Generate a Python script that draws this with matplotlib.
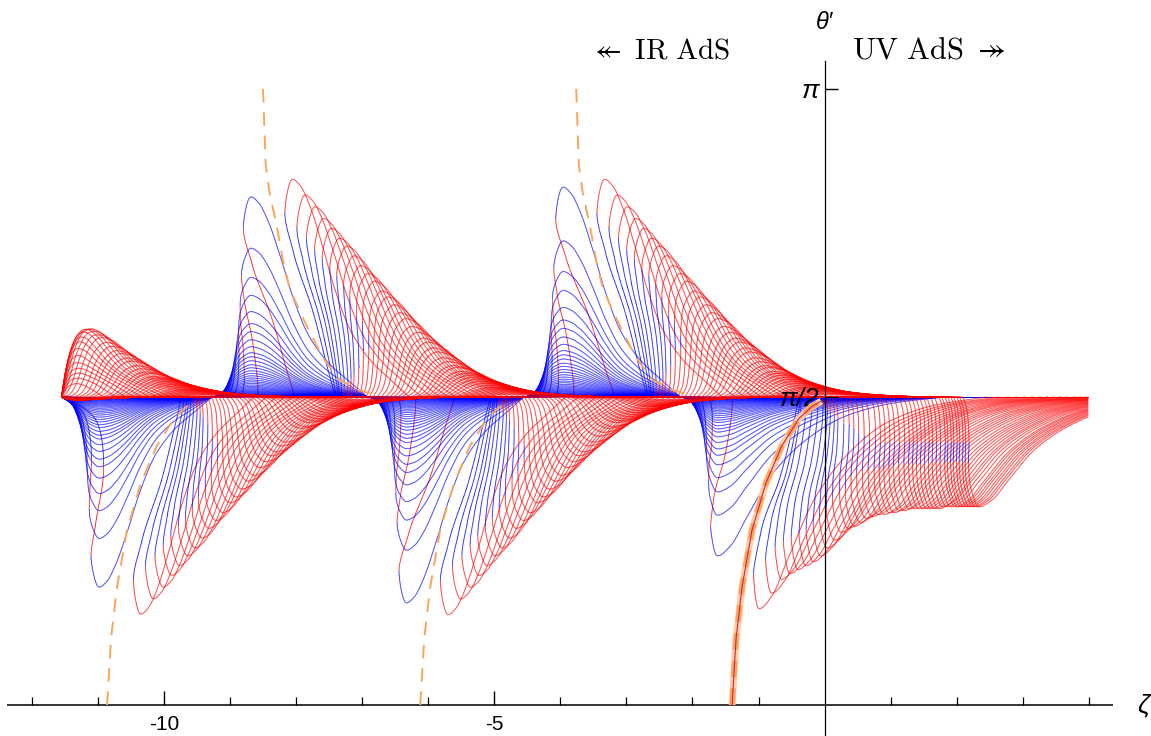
import numpy as np
import matplotlib.pyplot as plt
from matplotlib.collections import LineCollection

plt.rcParams['mathtext.fontset'] = 'cm'
plt.rcParams['axes.unicode_minus'] = False

# zeta where the small blue curves cross pi/2 (first one is the IR start)
pivots = [-11.55, -9.27, -6.92, -4.55, -2.18]
half_period = 2.37
zeta_end = 3.99
# profile of one lobe (position in lobe, fraction of extreme)
lobe_x = [0.0, 0.05, 0.10, 0.15, 0.20, 0.25, 0.30, 0.36, 0.44, 0.52, 0.62, 0.75, 0.88, 1.0]
lobe_h = [0.0, 0.12, 0.40, 0.72, 0.92, 1.00, 0.97, 0.88, 0.70, 0.50, 0.31, 0.17, 0.08, 0.0]
# how far the entry of a lobe is pushed to the right (fraction of the loop width)
lean_x = [0.0, 0.05, 0.10, 0.14, 0.18, 0.25, 1.0]
lean_w = [1.0, 0.82, 0.53, 0.22, 0.04, 0.0, 0.0]
# profile of the last (UV) lobe, zeta offset after the last pivot
uv_x = [0.0, 0.10, 0.25, 0.40, 0.56, 0.75, 1.00, 1.40, 1.90, 2.50, 3.20, 4.00]
uv_h = [0.0, 0.10, 0.42, 0.80, 1.00, 0.94, 0.76, 0.48, 0.27, 0.12, 0.04, 0.0]
uv_lean_x = [0.0, 0.12, 0.24, 0.33, 0.43, 0.56, 4.0]
uv_lean_w = [1.0, 0.82, 0.53, 0.22, 0.04, 0.0, 0.0]
# extremes of the largest blue curve per lobe (theta' - pi/2), last one is the UV lobe
blue_lobe_amp = [0.97, 1.02, 1.05, 1.07, 0.81]
# relative size of each blue curve
blue_scale = [1.0, 0.744, 0.598, 0.508, 0.427, 0.367, 0.327, 0.286, 0.251, 0.221,
              0.201, 0.181, 0.161, 0.146, 0.131, 0.118, 0.106, 0.095, 0.085, 0.076,
              0.068, 0.060, 0.053, 0.047, 0.041, 0.036, 0.031, 0.027, 0.023, 0.019,
              0.016, 0.013, 0.010, 0.007, 0.004]
# red curves: shift along zeta, lobe size, UV lobe size
red_shift = [0.63, 0.82, 0.97, 1.10, 1.22, 1.34, 1.45, 1.56, 1.66, 1.77,
             1.87, 1.98, 2.07, 2.16, 2.25, 2.34, 2.43, 2.52, 2.60, 2.67,
             2.75, 2.82, 2.90, 2.98, 3.05, 3.11, 3.17, 3.23, 3.29, 3.35,
             3.41, 3.47, 3.53, 3.60, 3.64, 3.69, 3.73, 3.78, 3.82, 3.87,
             3.91, 3.96]
red_amp = [1.11, 1.03, 0.97, 0.91, 0.86, 0.81, 0.77, 0.72, 0.67, 0.63,
           0.59, 0.54, 0.51, 0.47, 0.43, 0.40, 0.36, 0.33, 0.30, 0.28,
           0.25, 0.23, 0.20, 0.18, 0.16, 0.15, 0.13, 0.12, 0.11, 0.10,
           0.09, 0.08, 0.07, 0.06, 0.05, 0.046, 0.041, 0.036, 0.031, 0.026,
           0.020, 0.015]
red_amp_uv = [1.08, 1.00, 0.93, 0.90, 0.88, 0.86, 0.84, 0.81, 0.77, 0.73,
              0.69, 0.67, 0.66, 0.64, 0.62, 0.61, 0.60, 0.60, 0.59, 0.59,
              0.58, 0.58, 0.57, 0.57, 0.57, 0.57, 0.57, 0.57, 0.57, 0.57,
              0.56, 0.56, 0.56, 0.56, 0.56, 0.56, 0.56, 0.56, 0.56, 0.56,
              0.56, 0.56]

# orange loci: lower branch (offset from its foot, theta'), upper branch (offset from its top)
lower_feet = [-10.86, -6.12, -1.40]
lower_off = [0.0, 0.06, 0.15, 0.30, 0.51, 0.75, 1.01, 1.20, 1.35]
lower_th = [0.0, 0.34, 0.60, 0.89, 1.13, 1.32, 1.46, 1.52, 1.55]
upper_tops = [-8.50, -3.76]
upper_off = [0.0, 0.04, 0.10, 0.21, 0.30, 0.40, 0.55, 0.71, 0.90, 1.16, 1.46, 1.62]
upper_th = [np.pi, 2.754, 2.61, 2.44, 2.27, 2.13, 2.01, 1.90, 1.775, 1.657, 1.606, 1.59]

LEAN_BLUE = 1.2
LEAN_RED = 1.0


def pchip(xk, yk, x):
    xk = np.asarray(xk, float)
    yk = np.asarray(yk, float)
    h = np.diff(xk)
    d = np.diff(yk) / h
    m = np.zeros_like(yk)
    m[0], m[-1] = d[0], d[-1]
    for i in range(1, len(xk) - 1):
        if d[i - 1] * d[i] > 0:
            w1 = 2 * h[i] + h[i - 1]
            w2 = h[i] + 2 * h[i - 1]
            m[i] = (w1 + w2) / (w1 / d[i - 1] + w2 / d[i])
    i = np.clip(np.searchsorted(xk, x) - 1, 0, len(xk) - 2)
    t = (x - xk[i]) / h[i]
    h00 = 2 * t ** 3 - 3 * t ** 2 + 1
    h10 = t ** 3 - 2 * t ** 2 + t
    h01 = -2 * t ** 3 + 3 * t ** 2
    h11 = t ** 3 - t ** 2
    return h00 * yk[i] + h10 * h[i] * m[i] + h01 * yk[i + 1] + h11 * h[i] * m[i + 1]


def wave(v, amps, amp_uv):
    # amps: lobe sizes for lobes -2, -1, 0, 1, 2, 3; returns (delta, lean weight)
    z = [pivots[0] - 2 * half_period, pivots[0] - half_period] + pivots
    out = np.zeros_like(v)
    lean = np.zeros_like(v)
    for j in range(len(z) - 1):
        m = (v >= z[j]) & (v < z[j + 1])
        x = (v[m] - z[j]) / (z[j + 1] - z[j])
        sign = -1 if j % 2 == 0 else 1
        out[m] = sign * amps[j] * pchip(lobe_x, lobe_h, x)
        lean[m] = amps[j] ** 2 * pchip(lean_x, lean_w, x)
    m = (v >= pivots[-1]) & (v < pivots[-1] + uv_x[-1])
    out[m] = -amp_uv * pchip(uv_x, uv_h, v[m] - pivots[-1])
    lean[m] = amp_uv ** 2 * pchip(uv_lean_x, uv_lean_w, v[m] - pivots[-1])
    return out, lean


def add_curve(ax, zeta, delta, normal, back):
    th = np.pi / 2 + delta
    pts = np.column_stack([zeta, th])
    segs = np.stack([pts[:-1], pts[1:]], axis=1)
    fwd = np.diff(zeta) >= 0
    cols = [normal if f else back for f in fwd]
    ax.add_collection(LineCollection(segs, colors=cols, linewidths=0.6, zorder=2))


fig = plt.figure(figsize=(11.51, 7.36), dpi=100)
ax = fig.add_axes([8 / 1151, 0, 1104 / 1151, 675 / 736])
ax.set_xlim(-12.36, 4.35)
ax.set_ylim(-0.158, 3.284)

u = np.linspace(pivots[0], zeta_end, 8000)
ramp = 1 - np.exp(-(u - pivots[0]) / 0.2)

for c in blue_scale:
    amps = [0, 0] + [c * a for a in blue_lobe_amp[:4]]
    d, lean = wave(u, amps, c * blue_lobe_amp[4])
    zeta = u + LEAN_BLUE * lean * ramp
    add_curve(ax, zeta, d, 'blue', 'red')

for s, a, auv in zip(red_shift, red_amp, red_amp_uv):
    amps = [a, 0.8 * a, a, a, a, a]
    d, lean = wave(u - s, amps, auv)
    zeta = u + LEAN_RED * lean * ramp
    add_curve(ax, zeta, d * ramp, 'red', 'blue')

# orange loci
orange = '#FBA55A'
for k, foot in enumerate(lower_feet):
    zx = [foot + o for o in lower_off]
    if k == 2:
        ax.plot(zx, lower_th, color='#FFCFA0', lw=5, solid_capstyle='butt', zorder=3)
        ax.plot(zx, lower_th, color=orange, lw=4, dashes=(3, 2), zorder=3)
        ax.plot(zx, lower_th, color='#D0205A', lw=0.8, zorder=4)
    else:
        ax.plot(zx, lower_th, color=orange, lw=1.4, dashes=(7, 5), zorder=3)
for top in upper_tops:
    zx = [top + o for o in upper_off]
    ax.plot(zx, upper_th, color=orange, lw=1.4, dashes=(7, 5), zorder=3)

# axes in the middle, Mathematica style
ax.set_axisbelow(False)
for side in ['top', 'right']:
    ax.spines[side].set_visible(False)
ax.spines['left'].set_position(('data', 0))
ax.spines['bottom'].set_position(('data', 0))
ax.spines['bottom'].set_linewidth(1.4)
ax.spines['bottom'].set_color('#333333')
ax.spines['left'].set_linewidth(0.9)
ax.set_xticks([-10, -5])
ax.set_xticklabels(['-10', '-5'])
ax.set_xticks([t for t in range(-12, 5) if t % 5 != 0], minor=True)
ax.set_yticks([np.pi / 2, np.pi])
ax.set_yticklabels(['π/2', 'π'], fontstyle='italic')
ax.tick_params(axis='x', which='major', direction='in', length=10, width=1, labelsize=15, pad=7)
ax.tick_params(axis='x', which='minor', direction='in', length=6, width=0.9)
ax.tick_params(axis='y', direction='in', length=9, width=1, labelsize=19, pad=4)
for lab in ax.get_xticklabels() + ax.get_yticklabels():
    lab.set_family(['Liberation Sans', 'DejaVu Sans'])

ax.text(0, 3.48, "θ′", ha='center', va='center', fontsize=17, fontstyle='italic',
        family=['Liberation Sans', 'DejaVu Sans'], clip_on=False)
ax.text(4.82, 0.0, "ζ", ha='center', va='center', fontsize=19, fontstyle='italic',
        family=['Liberation Sans', 'DejaVu Sans'], clip_on=False)
ax.text(-2.50, 3.34, r'$\twoheadleftarrow\ \mathrm{IR\ AdS}$', ha='center', va='center',
        fontsize=21, clip_on=False)
ax.text(1.58, 3.34, r'$\mathrm{UV\ AdS}\ \twoheadrightarrow$', ha='center', va='center',
        fontsize=22, clip_on=False)

fig.savefig('out.png', dpi=100)
